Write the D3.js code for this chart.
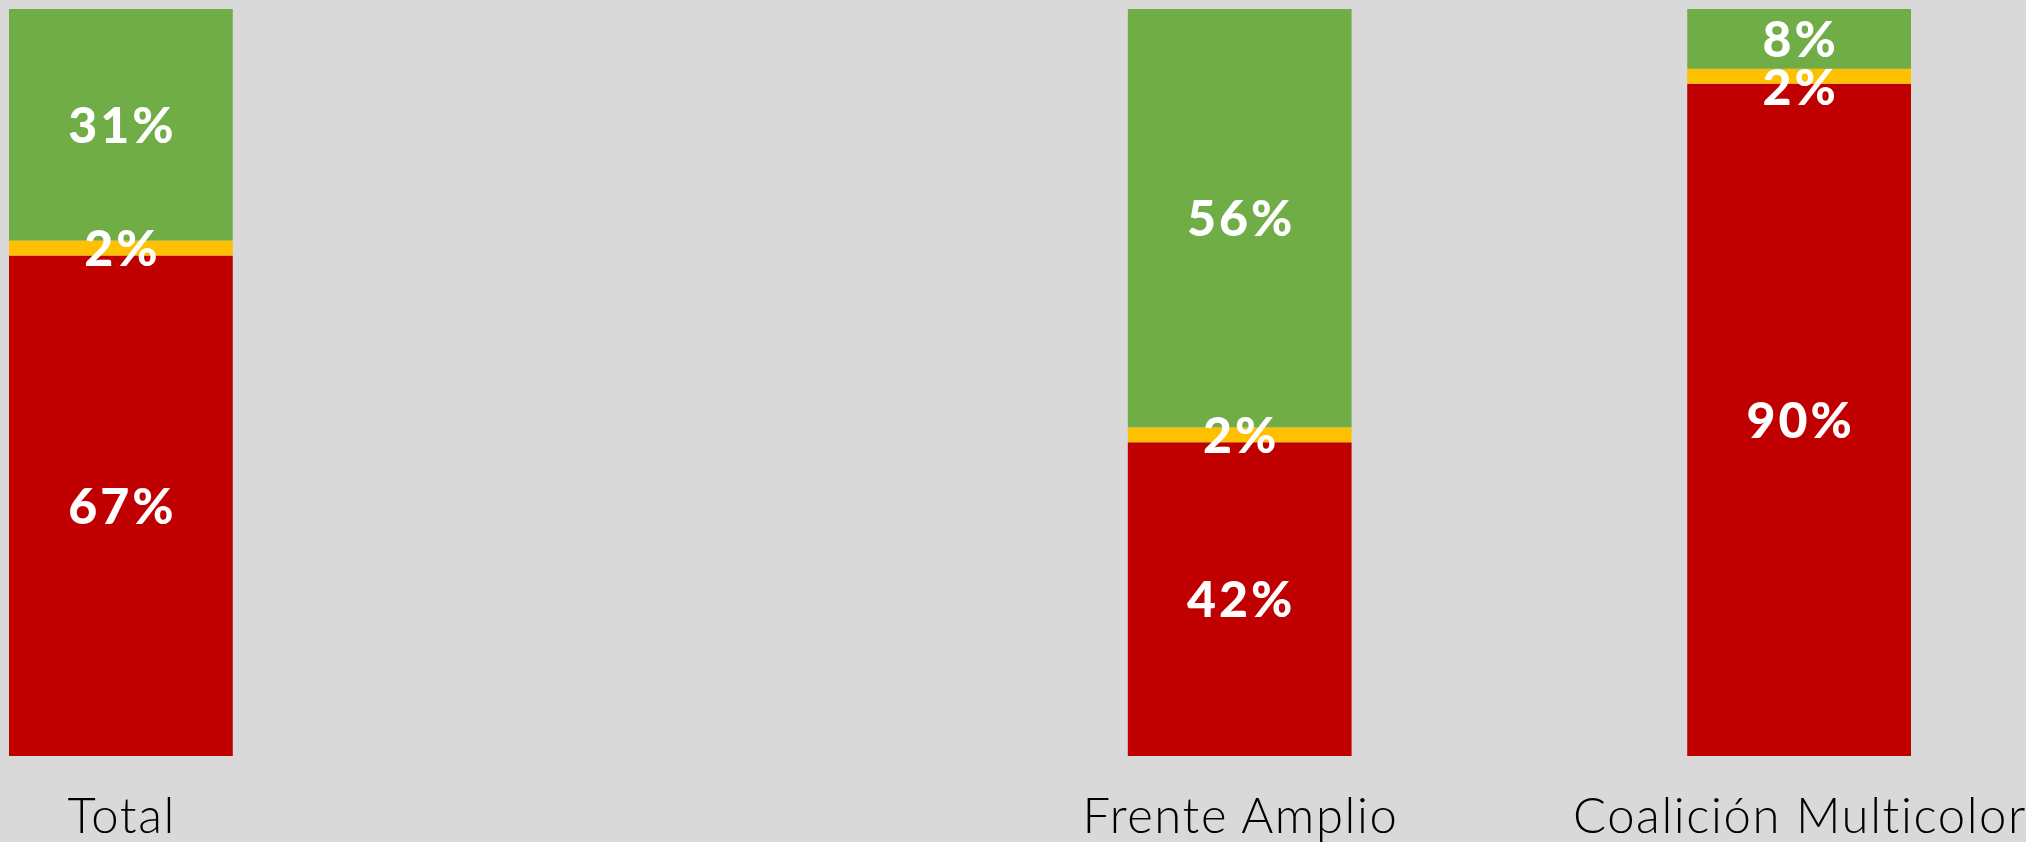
<!DOCTYPE html>
<html>
<head>
<meta charset="utf-8">
<script src="https://cdn.jsdelivr.net/npm/d3@7"></script>
<style>
  html, body { margin: 0; padding: 0; background: #D9D9D9; }
  svg { display: block; }
</style>
</head>
<body>
<div id="chart"></div>
<script>
const categories = ["Total", " ", "Frente Amplio", "Coalición Multicolor"];
const seriesNames = ["red", "yellow", "green"];
const redValues = [67, null, 42, 90];
const yellowValues = [2, null, 2, 2];
const greenValues = [31, null, 56, 8];
const colors = ["#C00000", "#FFC000", "#70AD47"];

const W = 2026, H = 842;
const svg = d3.select("#chart").append("svg").attr("width", W).attr("height", H);
svg.append("rect").attr("width", W).attr("height", H).attr("fill", "#D9D9D9");

const x = d3.scaleBand().domain(categories).range([9, 1911]).paddingInner(0.6).paddingOuter(0);
const y = d3.scaleLinear().domain([0, 100]).range([756, 9]);

const rows = categories.map((c, i) => ({
  cat: c, red: redValues[i], yellow: yellowValues[i], green: greenValues[i]
})).filter(d => d.red !== null);

const stack = d3.stack().keys(seriesNames);
const layers = stack(rows);

const g = svg.append("g");
layers.forEach((layer, li) => {
  g.selectAll(null).data(layer).enter().append("rect")
    .attr("x", d => x(d.data.cat))
    .attr("width", x.bandwidth())
    .attr("y", d => y(d[1]))
    .attr("height", d => y(d[0]) - y(d[1]))
    .attr("fill", colors[li]);
});

// labels with simple top-down collision avoidance per bar
const minGap = 48;
rows.forEach((row, ri) => {
  const labels = layers.map(layer => {
    const d = layer[ri];
    return { cat: row.cat, v: d[1] - d[0], cy: (y(d[0]) + y(d[1])) / 2 };
  }).sort((a, b) => a.cy - b.cy);
  for (let i = 1; i < labels.length; i++) {
    if (labels[i].cy - labels[i - 1].cy < minGap) labels[i].cy = labels[i - 1].cy + minGap;
  }
  g.selectAll(null).data(labels).enter().append("text")
    .attr("x", d => x(d.cat) + x.bandwidth() / 2 + 1.5)
    .attr("y", d => d.cy)
    .attr("dy", "0.36em")
    .attr("text-anchor", "middle")
    .attr("font-family", "Lato, sans-serif")
    .attr("font-weight", 900)
    .attr("font-size", 50)
    .attr("letter-spacing", 3)
    .attr("fill", "#FFFFFF")
    .text(d => d.v + "%");
});

const axis = d3.axisBottom(x).tickSize(0).tickPadding(0);
const ax = svg.append("g").attr("transform", "translate(0,756)").call(axis);
ax.select(".domain").remove();
ax.selectAll("text")
  .attr("y", 77)
  .attr("dy", 0)
  .attr("dx", 0.8)
  .attr("font-family", "Lato, sans-serif")
  .attr("font-weight", 300)
  .attr("font-size", 49)
  .attr("letter-spacing", 1.6)
  .attr("fill", "#000000");
</script>
</body>
</html>
